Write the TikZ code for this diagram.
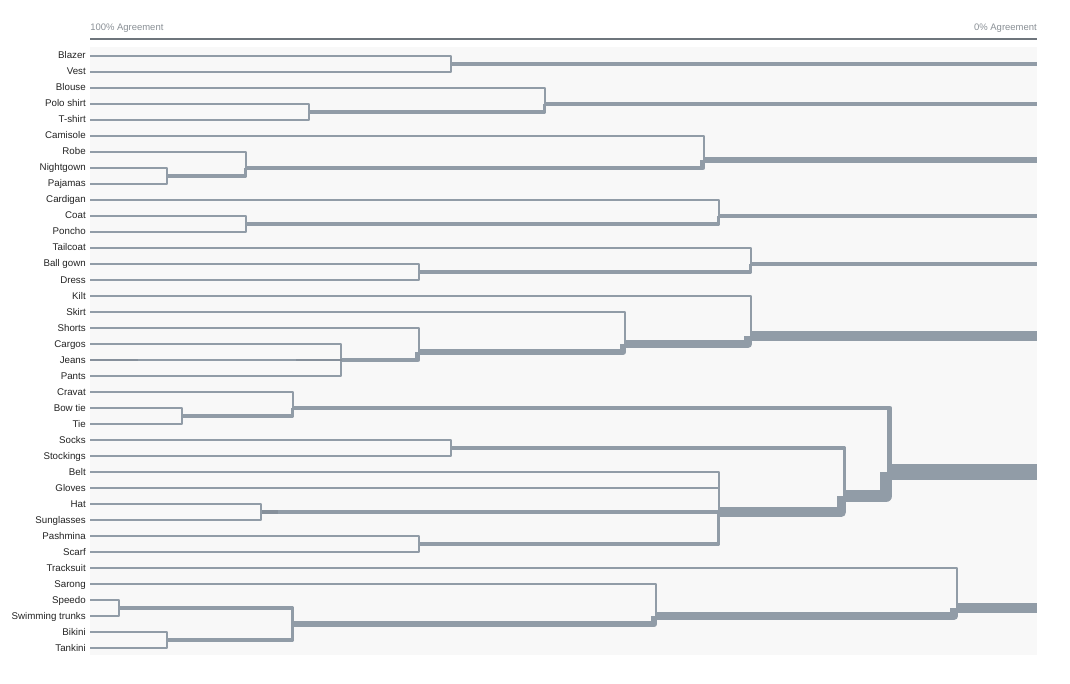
\documentclass[tikz,border=0pt]{standalone}
\usepackage{fontspec}
\setmainfont{Liberation Sans}
\definecolor{bgpanel}{HTML}{F8F8F8}
\definecolor{linkc}{HTML}{919CA7}
\definecolor{linkdark}{HTML}{86909B}
\definecolor{axisc}{HTML}{6E757C}
\definecolor{axistxt}{HTML}{8A9096}
\definecolor{labelc}{HTML}{222222}
\tikzset{
  lbl/.style={anchor=base east, font=\fontsize{7.3}{8}\selectfont, text=labelc, inner sep=0pt},
  axlbl/.style={font=\fontsize{7.1}{8}\selectfont, text=axistxt, inner sep=0pt},
  link/.style={draw=linkc, line join=round, line cap=butt},
  darklink/.style={draw=linkdark, line cap=butt},
}
\newcommand\lab[3]{\node[lbl] (t#1) at (86,{59+16*(#2)}) {#3};\coordinate (#1) at (90,{56+16*(#2)});}
\newcommand\mrg[3]{\coordinate (#1) at (#2,{56+16*(#3)});}
\newcommand\cn[3]{\draw[link,line width={(#3*1.5+0.3)*0.75pt}] (#1) -| ([xshift=-#3*0.5625pt]#2);}
\newcommand\rt[2]{\draw[link,line width={(#2*1.5+0.3)*0.75pt}] (#1) -- (#1 -| E);}
\begin{document}
\begin{tikzpicture}[x=0.75pt,y=-0.75pt]
\useasboundingbox (0,0) rectangle (1070,684);
\fill[bgpanel] (90,47) rectangle (1037,655);
\coordinate (W) at (90,39.5);
\coordinate (E) at (1037,39.5);
\draw[axisc,line width=1.5pt] (W) -- (E);
\node[axlbl,anchor=base west] (axl) at (90,31) {100\% Agreement};
\node[axlbl,anchor=base east] (axr) at (1037,31) {0\% Agreement};
% leaves
\lab{blazer}{0}{Blazer}
\lab{vest}{1}{Vest}
\lab{blouse}{2}{Blouse}
\lab{polo}{3}{Polo shirt}
\lab{tshirt}{4}{T-shirt}
\lab{camisole}{5}{Camisole}
\lab{robe}{6}{Robe}
\lab{nightgown}{7}{Nightgown}
\lab{pajamas}{8}{Pajamas}
\lab{cardigan}{9}{Cardigan}
\lab{coat}{10}{Coat}
\lab{poncho}{11}{Poncho}
\lab{tailcoat}{12}{Tailcoat}
\lab{ballgown}{13}{Ball gown}
\lab{dress}{14}{Dress}
\lab{kilt}{15}{Kilt}
\lab{skirt}{16}{Skirt}
\lab{shorts}{17}{Shorts}
\lab{cargos}{18}{Cargos}
\lab{jeans}{19}{Jeans}
\lab{pants}{20}{Pants}
\lab{cravat}{21}{Cravat}
\lab{bowtie}{22}{Bow tie}
\lab{tie}{23}{Tie}
\lab{socks}{24}{Socks}
\lab{stockings}{25}{Stockings}
\lab{belt}{26}{Belt}
\lab{gloves}{27}{Gloves}
\lab{hat}{28}{Hat}
\lab{sunglasses}{29}{Sunglasses}
\lab{pashmina}{30}{Pashmina}
\lab{scarf}{31}{Scarf}
\lab{tracksuit}{32}{Tracksuit}
\lab{sarong}{33}{Sarong}
\lab{speedo}{34}{Speedo}
\lab{swim}{35}{Swimming trunks}
\lab{bikini}{36}{Bikini}
\lab{tankini}{37}{Tankini}
% merges
\mrg{BV}{452}{0.5}
\mrg{PT}{310}{3.5}
\mrg{BPT}{546}{3}
\mrg{NP}{168}{7.5}
\mrg{RNP}{247}{7}
\mrg{CRNP}{705}{6.5}
\mrg{CP}{247}{10.5}
\mrg{CCP}{720}{10}
\mrg{BD}{420}{13.5}
\mrg{TBD}{752}{13}
\mrg{CJP}{342}{19}
\mrg{SCJP}{420}{18.5}
\mrg{SK}{626}{18}
\mrg{K}{752}{17.5}
\mrg{BT}{183}{22.5}
\mrg{CBT}{294}{22}
\mrg{SS}{452}{24.5}
\mrg{HS}{262}{28.5}
\mrg{PS}{420}{30.5}
\mrg{BG}{720}{28.5}
\mrg{SSB}{846}{27.5}
\mrg{AC}{892}{26}
\mrg{SpSw}{120}{34.5}
\mrg{BiTa}{168}{36.5}
\mrg{SW4}{294}{35.5}
\mrg{SAR}{657}{35}
\mrg{TR}{958}{34.5}
% connectors
\cn{blazer}{BV}{1} \cn{vest}{BV}{1}
\cn{polo}{PT}{1} \cn{tshirt}{PT}{1}
\cn{blouse}{BPT}{1} \cn{PT}{BPT}{2}
\cn{nightgown}{NP}{1} \cn{pajamas}{NP}{1}
\cn{robe}{RNP}{1} \cn{NP}{RNP}{2}
\cn{camisole}{CRNP}{1} \cn{RNP}{CRNP}{3}
\cn{coat}{CP}{1} \cn{poncho}{CP}{1}
\cn{cardigan}{CCP}{1} \cn{CP}{CCP}{2}
\cn{ballgown}{BD}{1} \cn{dress}{BD}{1}
\cn{tailcoat}{TBD}{1} \cn{BD}{TBD}{2}
\cn{cargos}{CJP}{1} \cn{jeans}{CJP}{1} \cn{pants}{CJP}{1}
\cn{shorts}{SCJP}{1} \cn{CJP}{SCJP}{3}
\cn{skirt}{SK}{1} \cn{SCJP}{SK}{4}
\cn{kilt}{K}{1} \cn{SK}{K}{5}
\cn{bowtie}{BT}{1} \cn{tie}{BT}{1}
\cn{cravat}{CBT}{1} \cn{BT}{CBT}{2}
\cn{socks}{SS}{1} \cn{stockings}{SS}{1}
\cn{hat}{HS}{1} \cn{sunglasses}{HS}{1}
\cn{pashmina}{PS}{1} \cn{scarf}{PS}{1}
\cn{belt}{BG}{1} \cn{gloves}{BG}{1} \cn{HS}{BG}{2} \cn{PS}{BG}{2}
\cn{SS}{SSB}{2} \cn{BG}{SSB}{6}
\cn{CBT}{AC}{3} \cn{SSB}{AC}{8}
\cn{speedo}{SpSw}{1} \cn{swim}{SpSw}{1}
\cn{bikini}{BiTa}{1} \cn{tankini}{BiTa}{1}
\cn{SpSw}{SW4}{2} \cn{BiTa}{SW4}{2}
\cn{sarong}{SAR}{1} \cn{SW4}{SAR}{4}
\cn{tracksuit}{TR}{1} \cn{SAR}{TR}{5}
% roots
\rt{BV}{2} \rt{BPT}{3} \rt{CRNP}{4} \rt{CCP}{3} \rt{TBD}{3} \rt{K}{6} \rt{AC}{11} \rt{TR}{6}
% darker overlaps
\draw[darklink,line width=1.35pt] (jeans) -- ([xshift=48*0.75pt]jeans);
\draw[darklink,line width=1.35pt] ([xshift=-46*0.75pt]CJP) -- (CJP);
\draw[darklink,line width=2.5pt] (HS) -- ([xshift=16*0.75pt]HS);
\end{tikzpicture}
\end{document}
